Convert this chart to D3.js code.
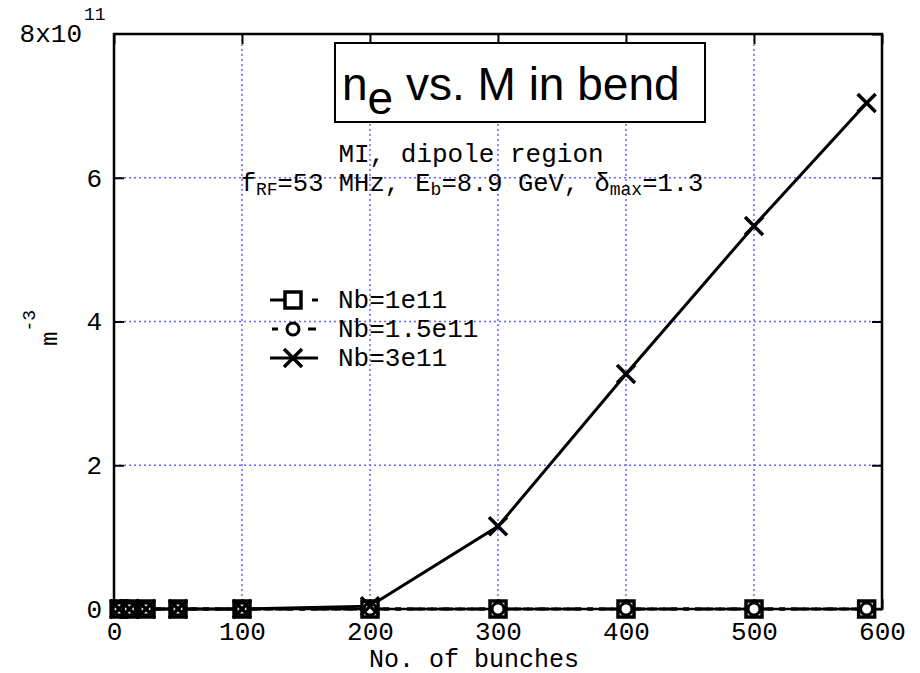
<!DOCTYPE html>
<html>
<head>
<meta charset="utf-8">
<script src="https://cdn.jsdelivr.net/npm/d3@7"></script>
<style>
  html, body { margin: 0; padding: 0; background: #fff; }
  svg { display: block; }
</style>
</head>
<body>
<div id="chart"></div>
<script>
'use strict';

// bunch counts (x) and electron density in units of 1e11 m^-3
const bunches   = [4, 12, 25, 50, 100, 200, 300, 400, 500, 588];
const neNb1     = [0, 0, 0, 0, 0, 0, 0, 0, 0, 0];
const neNb15    = [0, 0, 0, 0, 0, 0, 0, 0, 0, 0];
const neNb3     = [0, 0, 0, 0, 0, 0.04, 1.15, 3.27, 5.33, 7.04];
const seriesNames = ['Nb=1e11', 'Nb=1.5e11', 'Nb=3e11'];
const xTicks = [0, 100, 200, 300, 400, 500, 600];
const yTicks = [0, 2, 4, 6, 8];

const W = 920, H = 673;
const M = { left: 114, right: 882, top: 34, bottom: 609 };
const MONO = '"Liberation Mono", "Courier New", monospace';
const SANS = '"Liberation Sans", Arial, sans-serif';
const FS = 26;

const x = d3.scaleLinear().domain([0, 600]).range([M.left, M.right]);
const y = d3.scaleLinear().domain([0, 8]).range([M.bottom, M.top]);

const svg = d3.select('#chart').append('svg')
    .attr('width', W).attr('height', H).attr('viewBox', `0 0 ${W} ${H}`)
    .style('font-family', MONO);

// dotted blue grid
const grid = svg.append('g');
grid.selectAll('.gx').data(xTicks.slice(1, -1)).join('line')
    .attr('x1', d => x(d)).attr('x2', d => x(d))
    .attr('y1', M.top).attr('y2', M.bottom)
    .attr('stroke', '#6666ff').attr('stroke-width', 1.5).attr('stroke-dasharray', '2,3');
grid.selectAll('.gy').data(yTicks.slice(1, -1)).join('line')
    .attr('y1', d => y(d)).attr('y2', d => y(d))
    .attr('x1', M.left).attr('x2', M.right)
    .attr('stroke', '#6666ff').attr('stroke-width', 1.5).attr('stroke-dasharray', '2,3');

// axes: inward ticks on all four sides
const tickLen = 10;
const gx = svg.append('g').attr('transform', `translate(0,${M.bottom})`)
    .call(d3.axisBottom(x).tickValues(xTicks).tickSize(-tickLen).tickPadding(13).tickFormat(d3.format('d')));
const gxTop = svg.append('g').attr('transform', `translate(0,${M.top})`)
    .call(d3.axisTop(x).tickValues(xTicks).tickSize(-tickLen).tickFormat(''));
const gy = svg.append('g').attr('transform', `translate(${M.left},0)`)
    .call(d3.axisLeft(y).tickValues(yTicks.slice(0, -1)).tickSize(-tickLen).tickPadding(12).tickFormat(d3.format('d')));
const gyRight = svg.append('g').attr('transform', `translate(${M.right},0)`)
    .call(d3.axisRight(y).tickValues(yTicks).tickSize(-tickLen).tickFormat(''));

[gx, gxTop, gy, gyRight].forEach(g => {
    g.attr('font-family', null).attr('font-size', null);
    g.select('.domain').remove();
    g.selectAll('.tick line').attr('stroke', '#000').attr('stroke-width', 2);
    g.selectAll('.tick text').style('font-size', FS + 'px').style('font-family', MONO).attr('fill', '#000');
});
gx.selectAll('.tick text').attr('dy', '0.71em');

// frame
svg.append('rect')
    .attr('x', M.left).attr('y', M.top)
    .attr('width', M.right - M.left).attr('height', M.bottom - M.top)
    .attr('fill', 'none').attr('stroke', '#000').attr('stroke-width', 2.5);

// top y label 8x10^11
const topLab = svg.append('text').attr('x', 82).attr('y', 42)
    .attr('text-anchor', 'end').style('font-size', FS + 'px');
topLab.append('tspan').text('8x10');
svg.append('text').attr('x', 84).attr('y', 20).style('font-size', '18px').text('11');

// axis titles
svg.append('text').attr('x', 474).attr('y', 667).attr('text-anchor', 'middle')
    .style('font-size', '25px').text('No. of bunches');
const yLab = svg.append('text').attr('transform', 'translate(57,346) rotate(-90)')
    .style('font-size', '24px');
yLab.append('tspan').text('m');
yLab.append('tspan').attr('dy', -22).style('font-size', '18px').text('-3');

// series
const series = [neNb1, neNb15, neNb3].map((vals, i) => ({
    name: seriesNames[i],
    points: bunches.map((b, j) => ({ x: b, y: vals[j] })),
    dash: ['14,6,6,6', '6,6', null][i],
    marker: ['square', 'circle', 'cross'][i],
}));

const line = d3.line().x(d => x(d.x)).y(d => y(d.y));

function drawMarker(g, type, cx, cy) {
    if (type === 'square') {
        g.append('rect').attr('x', cx - 8).attr('y', cy - 8).attr('width', 16).attr('height', 16)
            .attr('fill', '#fff').attr('stroke', '#000').attr('stroke-width', 3.5);
    } else if (type === 'circle') {
        g.append('circle').attr('cx', cx).attr('cy', cy).attr('r', 6)
            .attr('fill', '#fff').attr('stroke', '#000').attr('stroke-width', 3);
    } else {
        g.append('path')
            .attr('d', `M${cx - 9},${cy - 9}L${cx + 9},${cy + 9}M${cx - 9},${cy + 9}L${cx + 9},${cy - 9}`)
            .attr('stroke', '#000').attr('stroke-width', 3.5).attr('fill', 'none');
    }
}

const plot = svg.append('g');
series.forEach(s => {
    plot.append('path').datum(s.points).attr('d', line)
        .attr('fill', 'none').attr('stroke', '#000').attr('stroke-width', 3)
        .attr('stroke-dasharray', s.dash);
});
series.forEach(s => {
    const mg = plot.append('g');
    s.points.forEach(p => drawMarker(mg, s.marker, x(p.x), y(p.y)));
});

// legend
const legend = svg.append('g');
const legendRows = [300, 329, 358];
series.forEach((s, i) => {
    const ly = legendRows[i];
    legend.append('line').attr('x1', 270).attr('x2', 318).attr('y1', ly).attr('y2', ly)
        .attr('stroke', '#000').attr('stroke-width', 3)
        .attr('stroke-dasharray', i === 0 ? '14,28,6' : i === 1 ? '0,2,6,30,6' : null);
    drawMarker(legend, s.marker, 293, ly);
    legend.append('text').attr('x', 338).attr('y', ly + 8).style('font-size', FS + 'px').text(s.name);
});

// title box
svg.append('rect').attr('x', 335).attr('y', 43).attr('width', 370).attr('height', 79)
    .attr('fill', '#fff').attr('stroke', '#000').attr('stroke-width', 2);
const title = svg.append('text').attr('x', 342).attr('y', 100)
    .style('font-family', SANS).style('font-size', '46px');
title.append('tspan').text('n');
title.append('tspan').attr('dy', 14).text('e');
title.append('tspan').attr('dy', -14).text(' vs. M in bend');

// annotation
svg.append('text').attr('x', 471).attr('y', 162).attr('text-anchor', 'middle')
    .style('font-size', FS + 'px').text('MI, dipole region');
const ann = svg.append('text').attr('x', 472).attr('y', 191).attr('text-anchor', 'middle')
    .style('font-size', '25.5px');
const SUB = '18px';
ann.append('tspan').text('f');
ann.append('tspan').attr('dy', 4).style('font-size', SUB).text('RF');
ann.append('tspan').attr('dy', -4).text('=53 MHz, E');
ann.append('tspan').attr('dy', 4).style('font-size', SUB).text('b');
ann.append('tspan').attr('dy', -4).text('=8.9 GeV, \u03b4');
ann.append('tspan').attr('dy', 4).style('font-size', SUB).text('max');
ann.append('tspan').attr('dy', -4).text('=1.3');
</script>
</body>
</html>
